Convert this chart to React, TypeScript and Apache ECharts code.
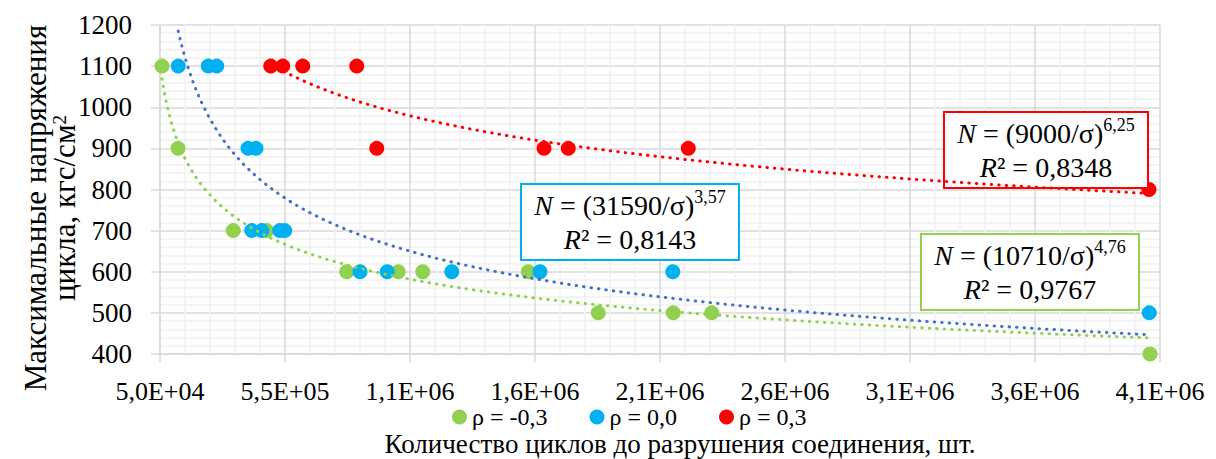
import React, { useEffect, useRef } from "react";
import * as echarts from "echarts";

const FONT = "'Liberation Serif', 'Times New Roman', serif";

// Axis setup (Excel-style axis from 5,0E+04 to 4,1E+06 with 500000 steps)
const X_AXIS_MIN = 50000;
const X_AXIS_MAX = 4050000;
const X_INTERVAL = 500000;
const xTickLabels = ["5,0E+04", "5,5E+05", "1,1E+06", "1,6E+06", "2,1E+06", "2,6E+06", "3,1E+06", "3,6E+06", "4,1E+06"];
const Y_MIN = 400;
const Y_MAX = 1200;
const Y_INTERVAL = 100;

const xTitle = "Количество циклов до разрушения соединения, шт.";
const yTitle = "Максимальные напряжения\nцикла, кгс/см{s|2}";

const seriesNames = ["ρ = -0,3", "ρ = 0,0", "ρ = 0,3"];
const pointColors = ["#92d050", "#00b0f0", "#ff0000"];
const trendColors = ["#92d050", "#4472c4", "#ff0000"];

// ρ = -0,3
const greenCycles = [58000, 122000, 343000, 477000, 797000, 1003000, 1101000, 1523000, 1803000, 2103000, 2257000, 4010000];
const greenStress = [1100, 900, 700, 700, 600, 600, 600, 600, 500, 500, 500, 400];
// ρ = 0,0
const blueCycles = [123000, 243000, 277000, 402000, 434000, 417000, 457000, 529000, 549000, 850000, 959000, 1217000, 1570000, 2101000, 4007000];
const blueStress = [1100, 1100, 1100, 900, 900, 700, 700, 700, 700, 600, 600, 600, 600, 600, 500];
// ρ = 0,3
const redCycles = [493000, 541000, 621000, 837000, 917000, 1586000, 1683000, 2163000, 4006000];
const redStress = [1100, 1100, 1100, 1100, 900, 900, 900, 900, 800];

// Power trend lines N = (C/σ)^m  ->  σ = C · N^(-1/m)
const trendC = [10710, 31590, 9000];
const trendM = [4.76, 3.57, 6.25];
const trendCText = ["10710", "31590", "9000"];
const trendMText = ["4,76", "3,57", "6,25"];
const trendR2 = ["0,9767", "0,8143", "0,8348"];

const cyclesList = [greenCycles, blueCycles, redCycles];
const stressList = [greenStress, blueStress, redStress];

function trendData(k: number) {
  const xs = cyclesList[k];
  const lo = Math.min(...xs);
  const hi = Math.max(...xs);
  const pts: number[][] = [];
  const n = 300;
  for (let i = 0; i <= n; i++) {
    const N = Math.exp(Math.log(lo) + (Math.log(hi) - Math.log(lo)) * (i / n));
    const s = trendC[k] * Math.pow(N, -1 / trendM[k]);
    pts.push([N - X_AXIS_MIN, s]);
  }
  return pts;
}

const richEq = {
  i: { fontFamily: FONT, fontSize: 28, fontStyle: "italic", color: "#000" },
  n: { fontFamily: FONT, fontSize: 28, color: "#000" },
  s: { fontFamily: FONT, fontSize: 18, color: "#000", verticalAlign: "top" as const },
};

function eqBox(k: number, x: number, y: number, w: number, h: number) {
  return [
    {
      type: "rect",
      z: 3,
      shape: { x, y, width: w, height: h },
      style: { fill: "#ffffff", stroke: pointColors[k], lineWidth: 2 },
    },
    {
      type: "text",
      z: 4,
      x: x + w / 2,
      y: y + h / 2,
      style: {
        text: `{i|N}{n| = (${trendCText[k]}/σ)}{s|${trendMText[k]}}\n{i|R}{n|² = ${trendR2[k]}}`,
        rich: richEq,
        align: "center",
        verticalAlign: "middle",
        lineHeight: 34,
      },
    },
  ];
}

export default function App() {
  const ref = useRef<HTMLDivElement>(null);
  useEffect(() => {
    if (!ref.current) return;
    const chart = echarts.init(ref.current, null, { renderer: "svg" });
    const scatter = seriesNames.map((name, k) => ({
      name,
      type: "scatter",
      z: 2,
      symbol: "circle",
      symbolSize: 15,
      itemStyle: { color: pointColors[k], opacity: 1 },
      data: cyclesList[k].map((c, i) => [c - X_AXIS_MIN, stressList[k][i]]),
    }));
    const trends = [0, 1, 2].map((k) => ({
      name: "trend" + k,
      type: "line",
      z: 5,
      silent: true,
      showSymbol: false,
      symbol: "none",
      smooth: false,
      lineStyle: { color: trendColors[k], width: 3, type: [0.5, 7], cap: "round" },
      data: trendData(k),
    }));
    const option = {
      animation: false,
      backgroundColor: "#ffffff",
      textStyle: { fontFamily: FONT },
      grid: { left: 160, right: 56, top: 25, bottom: 105, containLabel: false },
      legend: {
        data: seriesNames,
        left: 447,
        top: 400,
        icon: "circle",
        itemWidth: 15,
        itemHeight: 15,
        itemGap: 42,
        textStyle: { fontFamily: FONT, fontSize: 24, color: "#000" },
      },
      xAxis: {
        type: "value",
        min: 0,
        max: X_AXIS_MAX - X_AXIS_MIN,
        interval: X_INTERVAL,
        axisLine: { show: true, onZero: false, lineStyle: { color: "#d9d9d9", width: 1.5 } },
        axisTick: { show: true, length: 8, lineStyle: { color: "#d9d9d9", width: 1.5 } },
        axisLabel: {
          formatter: (v: number) => xTickLabels[Math.round(v / X_INTERVAL)] ?? "",
          color: "#000",
          fontFamily: FONT,
          fontSize: 26,
          margin: 24,
        },
        splitLine: { show: true, lineStyle: { color: "#d9d9d9", width: 1.5 } },
        minorTick: { show: false, splitNumber: 5 },
        minorSplitLine: { show: true, lineStyle: { color: "#f0f0f0", width: 1.5 } },
      },
      yAxis: {
        type: "value",
        min: Y_MIN,
        max: Y_MAX,
        interval: Y_INTERVAL,
        axisLine: { show: true, onZero: false, lineStyle: { color: "#d9d9d9", width: 1.5 } },
        axisTick: { show: true, length: 9, lineStyle: { color: "#d9d9d9", width: 1.5 } },
        axisLabel: {
          formatter: (v: number) => String(v),
          color: "#000",
          fontFamily: FONT,
          fontSize: 27,
          margin: 28,
        },
        splitLine: { show: true, lineStyle: { color: "#d9d9d9", width: 1.5 } },
        minorTick: { show: false, splitNumber: 5 },
        minorSplitLine: { show: true, lineStyle: { color: "#f0f0f0", width: 1.5 } },
      },
      graphic: [
        {
          type: "text",
          x: 50,
          y: 208,
          rotation: Math.PI / 2,
          style: {
            text: yTitle,
            rich: { s: { fontFamily: FONT, fontSize: 19, color: "#000", verticalAlign: "top" } },
            fontFamily: FONT,
            fontSize: 31,
            fill: "#000",
            align: "center",
            verticalAlign: "middle",
            lineHeight: 29,
          },
        },
        {
          type: "text",
          x: 680,
          y: 444,
          style: {
            text: xTitle,
            fontFamily: FONT,
            fontSize: 27,
            fill: "#000",
            align: "center",
            verticalAlign: "middle",
          },
        },
        ...eqBox(1, 521, 184, 218, 76),
        ...eqBox(0, 921, 234, 218, 76),
        ...eqBox(2, 944, 112, 204, 76),
      ],
      series: [...scatter, ...trends],
    };
    chart.setOption(option as any);
    return () => chart.dispose();
  }, []);
  return (
    <div
      ref={ref}
      style={{ position: "absolute", left: 0, top: 0, width: 1216, height: 459 }}
    />
  );
}
